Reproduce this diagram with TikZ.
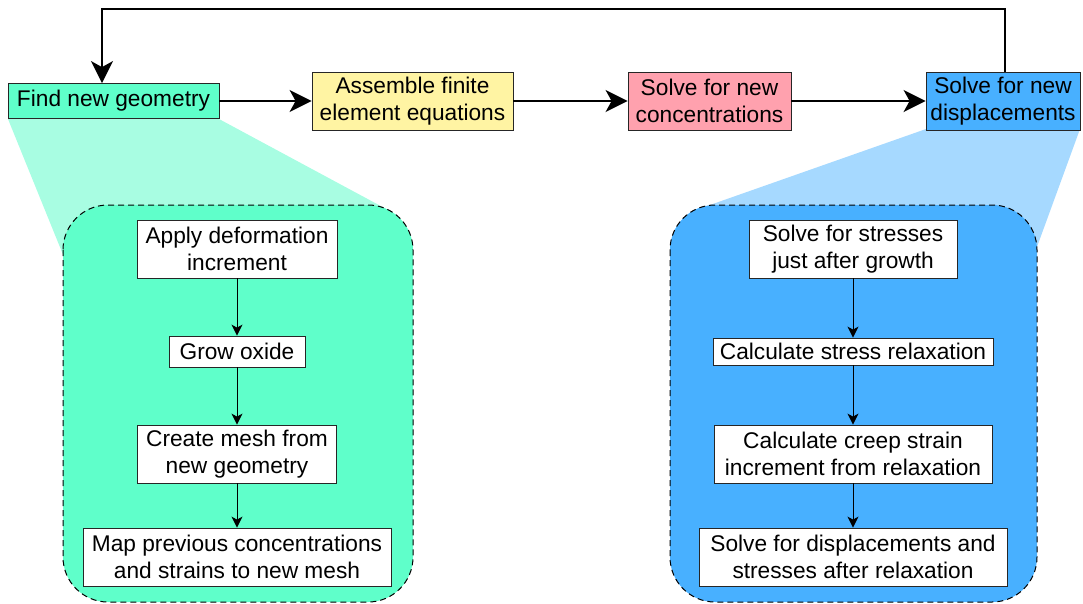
\documentclass[tikz,border=0pt]{standalone}
\usepackage{fontspec}
\setmainfont{Liberation Sans}
\usetikzlibrary{arrows.meta}
\definecolor{geocol}{HTML}{5FFFCA}
\definecolor{geolight}{HTML}{A8FDE2}
\definecolor{asmcol}{HTML}{FFF4A3}
\definecolor{concol}{HTML}{FFA1AE}
\definecolor{dispcol}{HTML}{48B0FF}
\definecolor{displight}{HTML}{A6D9FF}
\begin{document}
\begin{tikzpicture}[x=1pt, y=-1pt, every node/.style={draw=black!85, align=center, inner sep=0pt, font=\fontsize{22.7}{26.5}\selectfont}]
\useasboundingbox (0,0) rectangle (1083,603);
\tikzset{panel/.style={draw=black, line width=1pt, dash pattern=on 6pt off 4pt, rounded corners=45pt}}
\fill[geolight] (8,119) -- (219,119) -- (390,211) -- (66,262) -- cycle;
\fill[displight] (926,129) -- (1080,129) -- (1030,266) -- (690,212) -- cycle;
\draw[panel, fill=geocol] (63,205) rectangle (413,602);
\draw[panel, fill=dispcol] (670,205) rectangle (1037,602);

\tikzset{every node/.append style={line width=0.8pt}}
\node[fill=geocol, minimum width=211pt, minimum height=35pt] (find) at (113.5,101) {Find new geometry};
\node[fill=asmcol, minimum width=201pt, minimum height=58pt] (asm) at (412.5,101) {Assemble finite\\element equations};
\node[fill=concol, minimum width=163pt, minimum height=58pt] (conc) at (709.5,101) {Solve for new\\concentrations};
\node[fill=dispcol, minimum width=154pt, minimum height=58pt] (disp) at (1003,101) {Solve for new\\displacements};

\node[fill=white, minimum width=200pt, minimum height=58pt] (n1) at (237,249) {Apply deformation\\increment};
\node[fill=white, minimum width=136pt, minimum height=31pt] (n2) at (237,351.5) {Grow oxide};
\node[fill=white, minimum width=199pt, minimum height=58pt] (n3) at (237,454) {Create mesh from\\new geometry};
\node[fill=white, minimum width=308pt, minimum height=58pt] (n4) at (237,557) {Map previous concentrations\\and strains to new mesh};

\node[fill=white, minimum width=208pt, minimum height=58pt] (m1) at (853,249) {Solve for stresses\\just after growth};
\node[fill=white, minimum width=280pt, minimum height=27pt] (m2) at (853,351.5) {Calculate stress relaxation};
\node[fill=white, minimum width=278pt, minimum height=58pt] (m3) at (853,454) {Calculate creep strain\\increment from relaxation};
\node[fill=white, minimum width=308pt, minimum height=58pt] (m4) at (853,557) {Solve for displacements and\\stresses after relaxation};

\coordinate (c1) at (1005,9);
\coordinate (c2) at (102,9);

\tikzset{mystyle/.style={-{Stealth[length=22pt, width=22pt, inset=6pt]}, line width=2.2pt}}
\path (find) edge [mystyle] (asm);
\path (asm) edge [mystyle] (conc);
\path (conc) edge [mystyle] (disp);
\draw[mystyle] (disp.north -| c1) -- (c1) -- (c2) -- (find.north -| c2);

\tikzset{mystyle/.style={-{Stealth[length=11pt, width=11pt, inset=3pt]}, line width=1pt}}
\path (n1) edge [mystyle] (n2);
\path (n2) edge [mystyle] (n3);
\path (n3) edge [mystyle] (n4);
\path (m1) edge [mystyle] (m2);
\path (m2) edge [mystyle] (m3);
\path (m3) edge [mystyle] (m4);
\end{tikzpicture}
\end{document}
